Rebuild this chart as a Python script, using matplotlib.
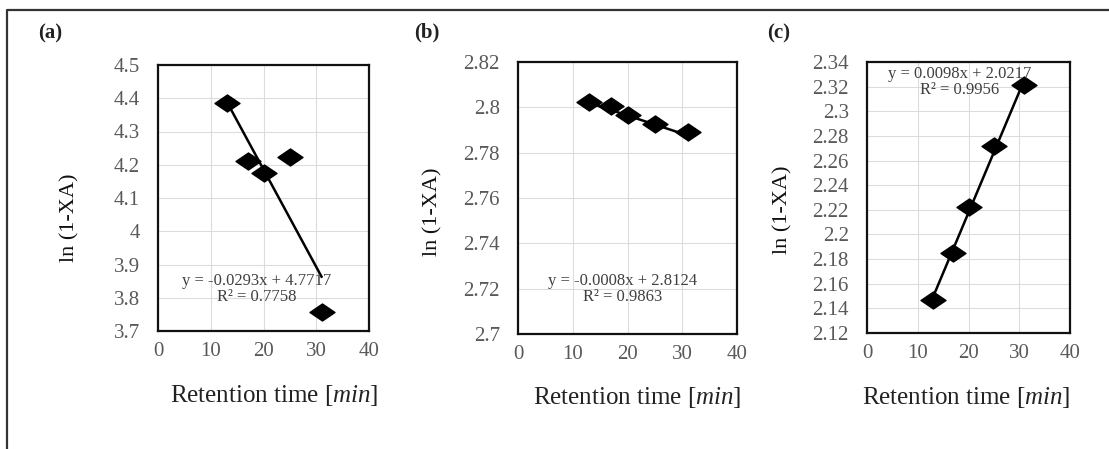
import numpy as np
import matplotlib
matplotlib.use("Agg")
import matplotlib.pyplot as plt
from matplotlib.path import Path
from matplotlib.lines import Line2D
from matplotlib.ticker import FixedLocator, FuncFormatter

# ---------------- data ----------------
x_a = [13, 17, 20, 25, 31]
y_a = [4.385, 4.210, 4.176, 4.224, 3.757]
fit_a = (-0.0293, 4.7717)
r2_a = 0.7758
yticks_a = [3.7, 3.8, 3.9, 4.0, 4.1, 4.2, 4.3, 4.4, 4.5]

x_b = [13, 17, 20, 25, 31]
y_b = [2.8022, 2.8005, 2.7965, 2.7925, 2.7890]
fit_b = (-0.0008, 2.8124)
r2_b = 0.9863
yticks_b = [2.70, 2.72, 2.74, 2.76, 2.78, 2.80, 2.82]

x_c = [13, 17, 20, 25, 31]
y_c = [2.147, 2.185, 2.222, 2.272, 2.321]
fit_c = (0.0098, 2.0217)
r2_c = 0.9956
yticks_c = [2.12, 2.14, 2.16, 2.18, 2.20, 2.22, 2.24, 2.26, 2.28, 2.30, 2.32, 2.34]

xticks = [0, 10, 20, 30, 40]
panel_labels = ["(a)", "(b)", "(c)"]
ylabel_text = "ln (1-XA)"
xlabel_text = r"Retention time [$\mathit{min}$]"

# ---------------- layout ----------------
W, H = 1109, 449
fig = plt.figure(figsize=(W / 100, H / 100), dpi=100)
fig.patch.set_facecolor("white")
SERIF = "Liberation Serif"
plt.rcParams["mathtext.fontset"] = "custom"
plt.rcParams["mathtext.it"] = "Liberation Serif:italic"
plt.rcParams["mathtext.rm"] = "Liberation Serif"

def fx(px):
    return px / W

def fy(py):
    return 1 - py / H

# outer frame (left and top edges visible)
fig.add_artist(Line2D([fx(7), fx(7), fx(1109)], [fy(449), fy(10), fy(10)],
                      transform=fig.transFigure, color="#333333", lw=1.6))

diamond = Path([(-1, 0), (0, 0.68), (1, 0), (0, -0.68), (-1, 0)],
               [Path.MOVETO, Path.LINETO, Path.LINETO, Path.LINETO, Path.CLOSEPOLY])

def fmt(v, pos):
    return "{:g}".format(round(v, 4))

panels = [
    dict(x=x_a, y=y_a, fit=fit_a, r2=r2_a, yt=yticks_a, box=(158, 369, 65, 331),
         lab=(50, 33), ylab=(70, 218), xlab=(274, 395), eq=(257, 283)),
    dict(x=x_b, y=y_b, fit=fit_b, r2=r2_b, yt=yticks_b, box=(518, 737, 62, 334),
         lab=(427, 32), ylab=(433, 212), xlab=(637, 397), eq=(623, 283)),
    dict(x=x_c, y=y_c, fit=fit_c, r2=r2_c, yt=yticks_c, box=(867, 1070, 62, 333),
         lab=(779, 33), ylab=(783, 210), xlab=(966, 397), eq=(960, 76)),
]

for i, p in enumerate(panels):
    l, r, t, b = p["box"]
    ax = fig.add_axes([fx(l), fy(b), (r - l) / W, (b - t) / H])
    ax.set_xlim(xticks[0], xticks[-1])
    ax.set_ylim(p["yt"][0], p["yt"][-1])
    ax.xaxis.set_major_locator(FixedLocator(xticks))
    ax.yaxis.set_major_locator(FixedLocator(p["yt"]))
    ax.yaxis.set_major_formatter(FuncFormatter(fmt))
    ax.grid(True, color="#dcdcdc", lw=0.8)
    ax.set_axisbelow(True)
    for s in ax.spines.values():
        s.set_color("#111111")
        s.set_linewidth(1.6)
    ax.tick_params(length=0, labelsize=15, labelcolor="#595959", pad=13)
    ax.tick_params(axis="x", pad=8)
    for lbl in ax.get_xticklabels() + ax.get_yticklabels():
        lbl.set_fontfamily(SERIF)

    # trend line
    xs = np.array([min(p["x"]), max(p["x"])])
    m, c = p["fit"]
    ax.plot(xs, m * xs + c, color="black", lw=1.8, zorder=2)
    ax.plot(p["x"], p["y"], linestyle="none", marker=diamond, markersize=18,
            color="black", zorder=3, clip_on=False)

    # equation
    ex, ey = p["eq"]
    sign = "+" if c >= 0 else "-"
    eq1 = "y = {:.4f}x {} {:.4f}".format(m, sign, abs(c))
    eq2 = "R\u00b2 = {:.4f}".format(p["r2"])
    fig.text(fx(ex), fy(ey - 2), eq1, ha="center", va="center", fontsize=12,
             family=SERIF, color="#404040")
    fig.text(fx(ex), fy(ey + 14), eq2, ha="center", va="center", fontsize=12,
             family=SERIF, color="#404040")

    # labels
    fig.text(fx(p["lab"][0]), fy(p["lab"][1]), panel_labels[i], ha="center",
             va="center", fontsize=15, family=SERIF, weight="bold", color="#222222")
    fig.text(fx(p["ylab"][0]), fy(p["ylab"][1]), ylabel_text, ha="center",
             va="center", rotation=90, fontsize=16, family=SERIF, color="#111111")
    fig.text(fx(p["xlab"][0]), fy(p["xlab"][1]), xlabel_text, ha="center",
             va="center", fontsize=18, family=SERIF, color="#222222")

fig.savefig("out.png", dpi=100, facecolor="white")
